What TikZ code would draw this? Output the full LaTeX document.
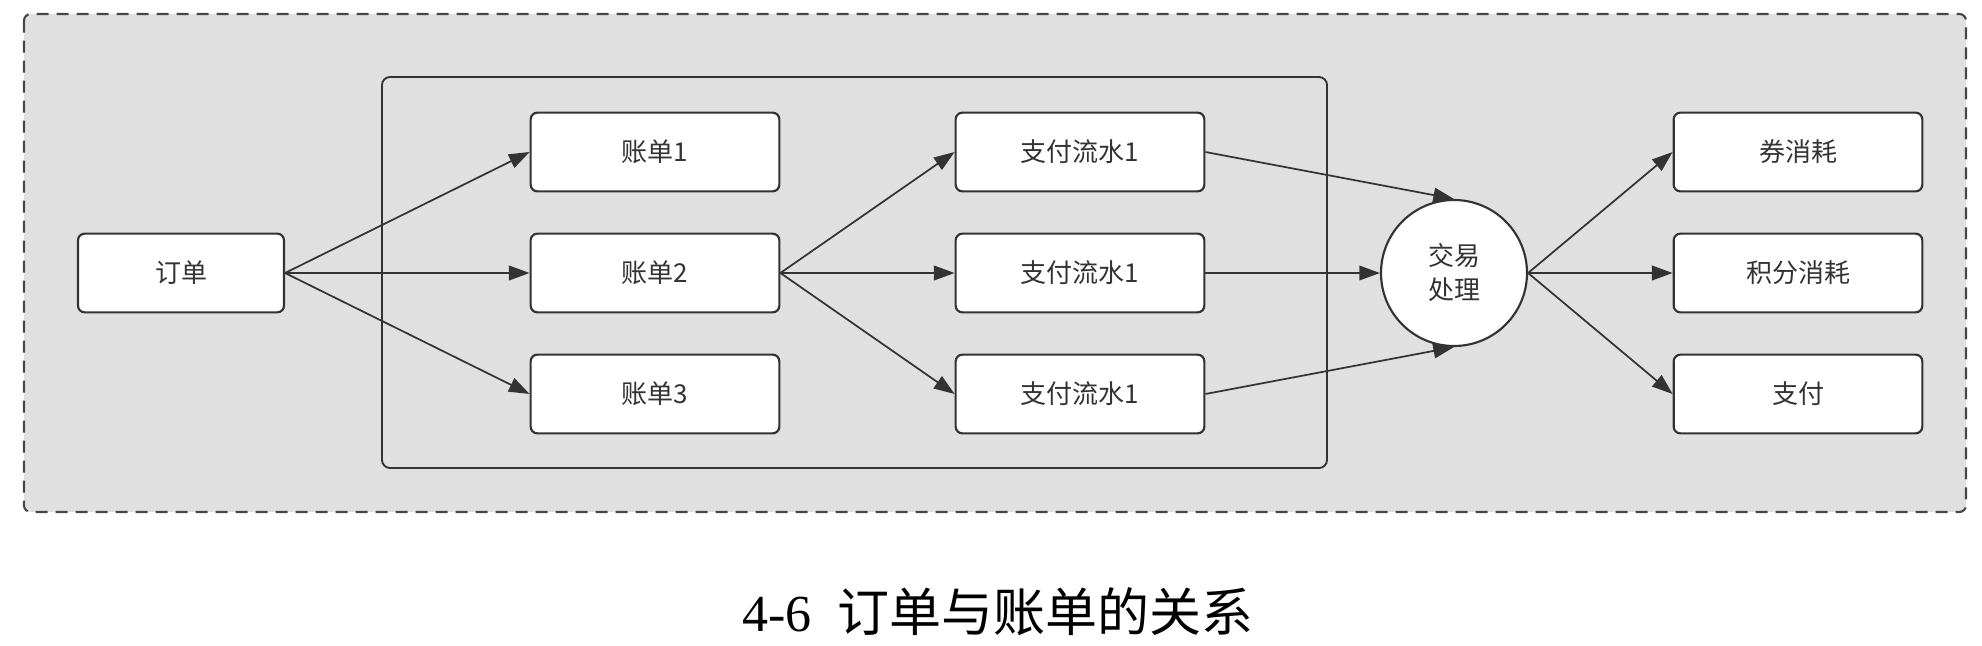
\documentclass[tikz,border=0pt]{standalone}
\usepackage{fontspec}
\setmainfont{Noto Sans CJK SC}
\newfontfamily\capdigits{Liberation Serif}
\usetikzlibrary{arrows.meta}

\definecolor{linegray}{HTML}{333333}
\definecolor{areagray}{HTML}{E0E0E0}

\tikzstyle{box}=[rectangle, draw=linegray, line width=1.6pt, fill=white,
                 rounded corners=5pt, minimum width=186.5pt, minimum height=59pt,
                 text=linegray, font=\fontsize{19.5}{24}\selectfont]
\tikzstyle{flow}=[-{Triangle[length=15.5pt,width=11pt]}, draw=linegray,
                  line width=1.3pt, fill=linegray]

\begin{document}
\begin{tikzpicture}[x=0.75pt, y=-0.75pt]
  \useasboundingbox (0, 0) rectangle (1982, 646);

  %%%%%%%%%%%%%%%%%%%%%%%%%%%%%%
  %%%%%%%%%%%%%%%%%%%%%%%%%%%%%%
  % frames
  \draw [draw=linegray!90, fill=areagray, line width=1.6pt, rounded corners=5pt,
         dash pattern=on 9pt off 6pt] (24, 14) rectangle (1966, 512);
  \draw [draw=linegray, line width=1.4pt, rounded corners=6pt] (382, 77) rectangle (1327, 468);

  %%%%%%%%%%%%%%%%%%%%%%%%%%%%%%
  % nodes
  % order
  \node (order) at (181, 273) [box, minimum width=154.5pt] {订单};

  % bills
  \node (bill1) at (655, 152) [box] {账单1};
  \node (bill2) at (655, 273) [box] {账单2};
  \node (bill3) at (655, 394) [box] {账单3};

  % payment flows
  \node (pay1) at (1080, 152) [box] {支付流水1};
  \node (pay2) at (1080, 273) [box] {支付流水1};
  \node (pay3) at (1080, 394) [box] {支付流水1};

  % trade
  \node (trade) at (1454, 273) [circle, draw=linegray, line width=1.6pt, fill=white,
        minimum size=109.5pt, inner sep=0pt, text=linegray, align=center,
        font=\fontsize{19.5}{25.5}\selectfont] {交易\\处理};

  % consumers
  \node (coupon) at (1798, 152) [box] {券消耗};
  \node (points) at (1798, 273) [box] {积分消耗};
  \node (payment) at (1798, 394) [box] {支付};

  %%%%%%%%%%%%%%%%%%%%%%%%%%%%%%
  % links
  \draw [flow] (order.east) to (bill1.west);
  \draw [flow] (order.east) to (bill2.west);
  \draw [flow] (order.east) to (bill3.west);

  \draw [flow] (bill2.east) to (pay1.west);
  \draw [flow] (bill2.east) to (pay2.west);
  \draw [flow] (bill2.east) to (pay3.west);

  \draw [flow] (pay1.east) to (trade.north);
  \draw [flow] (pay2.east) to (trade.west);
  \draw [flow] (pay3.east) to (trade.south);

  \draw [flow] (trade.east) to (coupon.west);
  \draw [flow] (trade.east) to (points.west);
  \draw [flow] (trade.east) to (payment.west);

  %%%%%%%%%%%%%%%%%%%%%%%%%%%%%%
  % caption
  \node (caption) at (998, 631) [anchor=base, inner sep=0pt,
        font=\fontsize{39}{44}\selectfont] {{\capdigits 4-6}\hspace{20pt}订单与账单的关系};

\end{tikzpicture}
\end{document}
